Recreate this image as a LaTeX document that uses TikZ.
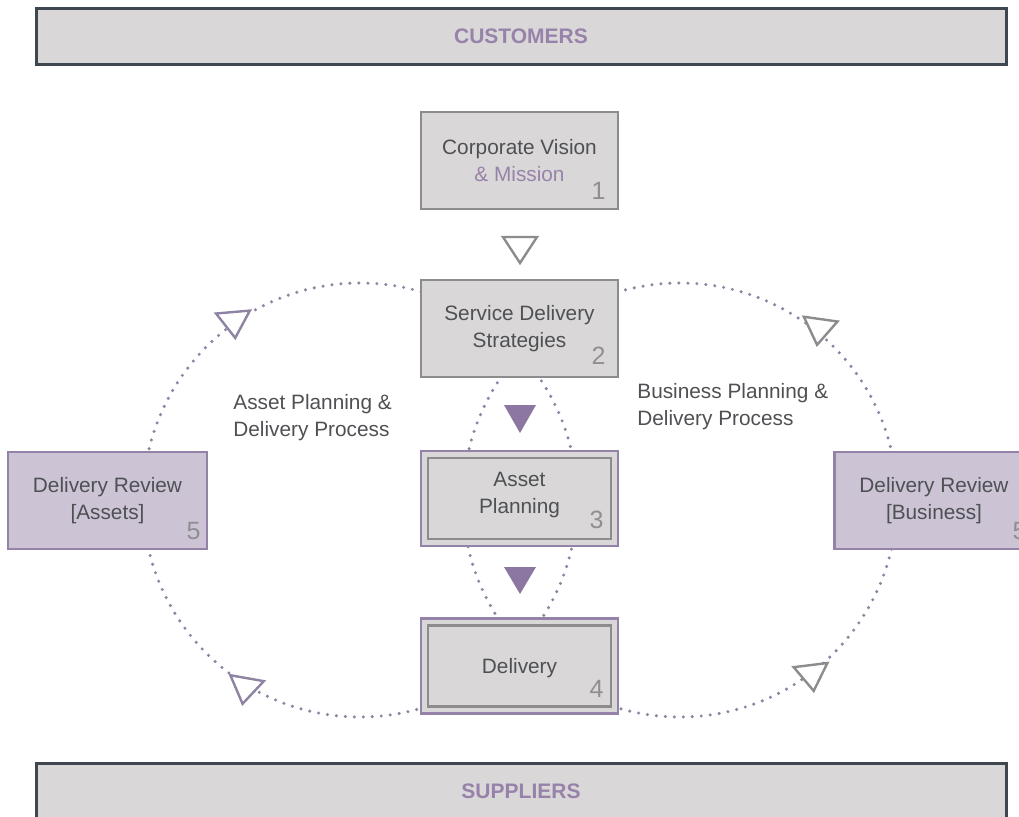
\documentclass[tikz,border=0pt]{standalone}
\usepackage{fontspec}
\setmainfont{Liberation Sans}
\definecolor{boxfill}{HTML}{D9D7D8}
\definecolor{greyline}{HTML}{8C8C8C}
\definecolor{purpleline}{HTML}{9482A8}
\definecolor{lilac}{HTML}{CCC3D5}
\definecolor{darkline}{HTML}{3E474F}
\definecolor{txt}{HTML}{4F5053}
\definecolor{ptxt}{HTML}{9783AA}
\definecolor{numc}{HTML}{8F8F90}
\definecolor{dotc}{HTML}{8E84A2}
\definecolor{trifill}{HTML}{8C77A2}
\begin{document}
\begin{tikzpicture}[x=0.5pt,y=-0.5pt,
  txtfont/.style={font=\fontsize{10.4}{13.5}\selectfont, text=txt},
  band/.style={draw=darkline, line width=1.5pt, fill=boxfill, minimum width=485pt, minimum height=28pt, inner sep=0pt,
     font=\fontsize{10.5}{12}\selectfont\bfseries, text=ptxt},
  greybox/.style={draw=greyline, line width=1.3pt, fill=boxfill, minimum width=98.5pt, minimum height=48.5pt, inner sep=0pt, align=center, txtfont},
  dblbox/.style={draw=purpleline, line width=1.1pt, fill=boxfill, minimum width=98.5pt, minimum height=47.5pt, inner sep=0pt},
  innerbox/.style={draw=greyline, line width=1.3pt, minimum width=91.5pt, minimum height=40.5pt, inner sep=0pt},
  revbox/.style={draw=purpleline, line width=1.3pt, fill=lilac, minimum width=99.5pt, minimum height=48.5pt, inner sep=0pt, align=center, txtfont},
  num/.style={font=\fontsize{12.5}{14}\selectfont, text=numc, inner sep=0pt, anchor=south east},
  lbl/.style={txtfont, align=left, anchor=west, inner sep=0pt},
  dots/.style={draw=dotc, line width=1.7pt, line cap=round, dash pattern=on 0pt off 4.5pt},
  opentri/.style={draw=greyline, fill=white, line width=1.2pt, line join=miter},
  opentrip/.style={draw=dotc, fill=white, line width=1.2pt, line join=miter},
  filltri/.style={fill=trifill, draw=none},
]
\useasboundingbox (0,0) rectangle (1019,816);
% dotted loops
\draw[dots] (360,500) circle[radius=108.5pt];
\draw[dots] (680,500) circle[radius=108.5pt];
% bands
\node[band] (cust) at (521,36) {CUSTOMERS};
\node[band] (supp) at (521,791) {SUPPLIERS};
% boxes
\node[greybox] (b1) at (519.5,160.5) {Corporate Vision\\\textcolor{ptxt}{\& Mission}};
\node[greybox] (b2) at (519.5,328.5) {Service Delivery\\Strategies};
\node[dblbox] (b3) at (519.5,498.5) {};
\node[innerbox] (b3i) at (b3.center) {};
\node[txtfont, align=center] (t3) at (519.5,495) {Asset\\Planning};
\node[dblbox] (b4) at (519.5,666) {};
\node[innerbox] (b4i) at (b4.center) {};
\node[txtfont] (t4) at (519.5,668) {Delivery};
\node[revbox] (b5l) at (107.5,500.5) {Delivery Review\\{[Assets]}};
\node[revbox] (b5r) at (934,500.5) {Delivery Review\\{[Business]}};
% numbers
\node[num] (n1) at (606,200) {1};
\node[num] (n2) at (606,365) {2};
\node[num] (n3) at (604,529) {3};
\node[num] (n4) at (604,698) {4};
\node[num] (n5l) at (201,540) {5};
\node[num] (n5r) at (1027,540) {5};
% process labels
\node[lbl] (la) at (233,418) {Asset Planning \&\\Delivery Process};
\node[lbl] (lb) at (637,406.5) {Business Planning \&\\Delivery Process};
% triangles
\draw[opentri] (503,237) -- (537,237) -- (520,263) -- cycle;
\draw[filltri] (504,405) -- (536,405) -- (520,433) -- cycle;
\draw[filltri] (504,567) -- (536,567) -- (520,594) -- cycle;
\begin{scope}[shift={(234,324)}, rotate=5]
  \draw[opentrip] (-17,-12) -- (17,-12) -- (0,14) -- cycle;
\end{scope}
\begin{scope}[shift={(245,690)}, rotate=-10]
  \draw[opentrip] (-17,-12) -- (17,-12) -- (0,14) -- cycle;
\end{scope}
\begin{scope}[shift={(819,331)}, rotate=-8]
  \draw[opentri] (-17,-12) -- (17,-12) -- (0,14) -- cycle;
\end{scope}
\begin{scope}[shift={(812,677)}, rotate=7]
  \draw[opentri] (-17,-12) -- (17,-12) -- (0,14) -- cycle;
\end{scope}
\end{tikzpicture}
\end{document}
